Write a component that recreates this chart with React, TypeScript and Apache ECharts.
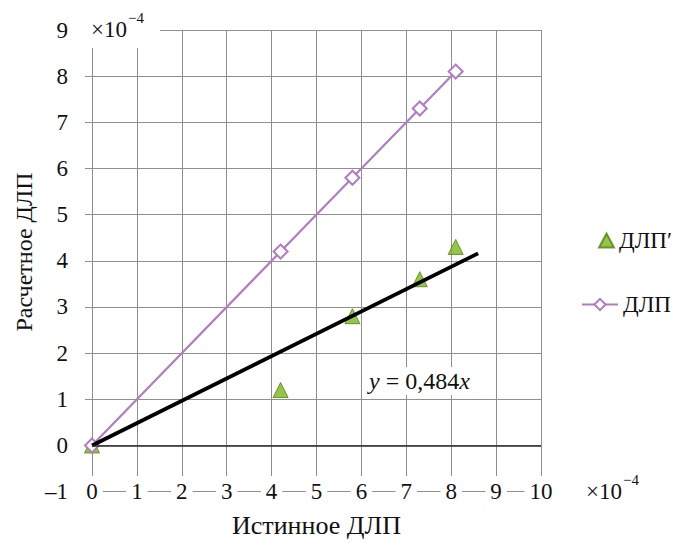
import React, { useEffect, useRef } from "react";
import * as echarts from "echarts";

// values in units of 1e-4
const trueValues = [0, 4.2, 5.8, 7.3, 8.1];
const estimatedPrime = [0, 1.2, 2.8, 3.6, 4.3];
const estimatedDLP = [0, 4.2, 5.8, 7.3, 8.1];
const trendX = [0, 8.6];
const trendY = [0, 4.16];
const seriesNames = ["ДЛП′", "ДЛП"];
const xName = "Истинное ДЛП";
const yName = "Расчетное ДЛП";
const equation = "{i|y} = 0,484{i|x}";
const multBase = "×10";
const multExp = "−4";

const FONT = "Liberation Serif, Times New Roman, serif";
const GRID = "#8f8f8f";
const PURPLE = "#B07CC2";
const GREEN = "#7AB51E";

const txt = (text: string, x: number, y: number, size: number, extra: any = {}) => ({
  type: "text",
  z: 101,
  x,
  y,
  style: { text, fontFamily: FONT, fontSize: size, fill: "#111", textAlign: "left", textVerticalAlign: "middle", ...extra },
});

export default function App() {
  const ref = useRef<HTMLDivElement>(null);
  useEffect(() => {
    const chart = echarts.init(ref.current!, null, { renderer: "svg" });
    const option: any = {
      animation: false,
      backgroundColor: "#fff",
      textStyle: { fontFamily: FONT },
      grid: { left: 92, right: 136, top: 30, bottom: 50, containLabel: false },
      xAxis: {
        type: "value",
        min: 0,
        max: 10,
        interval: 1,
        name: xName,
        nameLocation: "middle",
        nameGap: 16,
        nameTextStyle: { fontFamily: FONT, fontSize: 26, color: "#111", verticalAlign: "top" },
        axisLine: { show: false },
        axisTick: { show: false },
        splitLine: { show: true, lineStyle: { color: GRID, width: 1 } },
        axisLabel: {
          fontFamily: FONT,
          fontSize: 23,
          color: "#111",
          margin: 0,
          verticalAlign: "middle",
          backgroundColor: "#fff",
          padding: [4, 5],
        },
      },
      yAxis: {
        type: "value",
        min: -1,
        max: 9,
        interval: 1,
        axisLine: { show: false },
        axisTick: { show: true, length: 7, lineStyle: { color: GRID } },
        splitLine: { show: true, lineStyle: { color: GRID, width: 1 } },
        axisLabel: {
          fontFamily: FONT,
          fontSize: 23,
          color: "#111",
          margin: 24,
          formatter: (v: number) => (v < 0 ? "–" + Math.abs(v) : String(v)),
        },
      },
      legend: [
        {
          orient: "vertical",
          left: 593,
          top: 224,
          itemWidth: 15,
          itemHeight: 14,
          data: [seriesNames[0]],
          textStyle: { fontFamily: FONT, fontSize: 23, color: "#111" },
        },
        {
          orient: "vertical",
          left: 576,
          top: 288,
          itemWidth: 36,
          itemHeight: 14,
          data: [seriesNames[1]],
          textStyle: { fontFamily: FONT, fontSize: 23, color: "#111" },
        },
      ],
      series: [
        {
          name: seriesNames[0],
          type: "scatter",
          symbol: "triangle",
          symbolSize: 15,
          data: trueValues.map((x, i) => [x, estimatedPrime[i]]),
          itemStyle: { color: GREEN, borderColor: "#557F10", borderWidth: 1 },
          z: 2,
        },
        {
          name: seriesNames[1],
          type: "line",
          symbol: "emptyDiamond",
          symbolSize: 14,
          showSymbol: true,
          data: trueValues.map((x, i) => [x, estimatedDLP[i]]),
          lineStyle: { color: PURPLE, width: 2.2 },
          itemStyle: { color: PURPLE, borderWidth: 1.5 },
          z: 3,
        },
        {
          name: "trend",
          type: "line",
          showSymbol: false,
          silent: true,
          data: trendX.map((x, i) => [x, trendY[i]]),
          lineStyle: { color: "#000", width: 3.8 },
          itemStyle: { color: "#000" },
          z: 4,
          markLine: {
            silent: true,
            symbol: ["none", "none"],
            label: { show: false },
            lineStyle: { color: "#2a2a2a", width: 1.5, type: "solid" },
            data: [{ yAxis: 0 }],
          },
        },
      ],
      graphic: [
        {
          type: "rect",
          z: 100,
          shape: { x: 80, y: 0, width: 80, height: 48 },
          style: { fill: "#fff" },
          silent: true,
        },
        txt(multBase, 91, 29, 23),
        txt(multExp, 128, 18, 15),
        txt(multBase, 586, 491, 23),
        txt(multExp, 623, 480, 15),
        txt(equation, 366, 381, 24, {
          backgroundColor: "#fff",
          padding: [2, 3],
          rich: { i: { fontStyle: "italic", fontFamily: FONT, fontSize: 24, fill: "#111" } },
        }),
        {
          type: "text",
          z: 101,
          x: 24,
          y: 252,
          rotation: Math.PI / 2,
          style: { text: yName, fontFamily: FONT, fontSize: 24, fill: "#111", textAlign: "center", textVerticalAlign: "middle" },
        },
      ],
    };
    chart.setOption(option);
    return () => chart.dispose();
  }, []);
  return (
    <div
      ref={ref}
      style={{ position: "fixed", left: 0, top: 0, width: 677, height: 543, background: "#fff" }}
    />
  );
}
